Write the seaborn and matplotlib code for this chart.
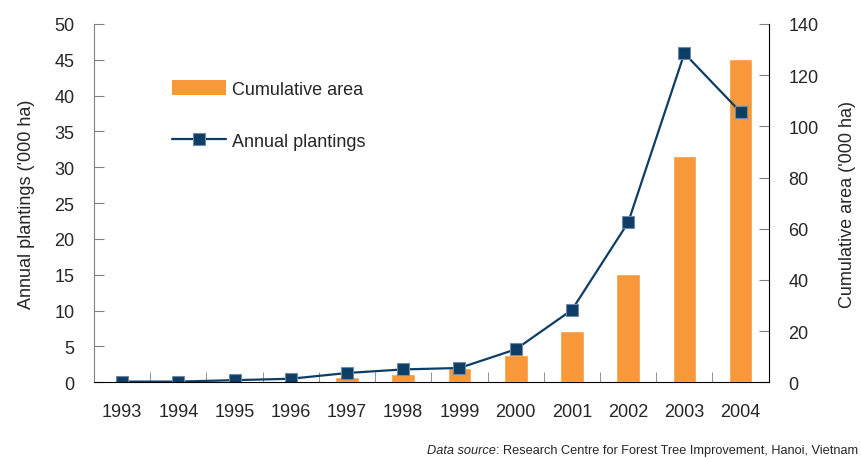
import numpy as np
import seaborn as sns
import matplotlib.pyplot as plt
from matplotlib.patches import Patch
from matplotlib.lines import Line2D

years = ["1993", "1994", "1995", "1996", "1997", "1998",
         "1999", "2000", "2001", "2002", "2003", "2004"]
annual_plantings = [0.1, 0.1, 0.3, 0.5, 1.3, 1.8, 2.0, 4.6, 10.1, 22.3, 45.9, 37.7]
cumulative_area = [0.0, 0.1, 0.2, 0.5, 2.0, 3.1, 5.4, 10.6, 20.2, 42.3, 88.4, 126.2]

orange = "#f7993a"
navy = "#0e3e66"
gray = "#808080"

sns.set_style("white")
plt.rcParams["font.family"] = ["Liberation Sans", "DejaVu Sans"]

fig = plt.figure(figsize=(8.61, 4.6), dpi=100)
ax = fig.add_axes([0.1092, 0.1667, 0.7836, 0.779])
ax2 = ax.twinx()

# bars: cumulative area on the right axis
sns.barplot(x=years, y=cumulative_area, ax=ax2, color=orange, width=0.42,
            saturation=1)
# line: annual plantings on the left axis
pos = np.arange(len(years))
sns.lineplot(x=pos, y=annual_plantings, ax=ax, color=navy, lw=1.6,
             marker="s", markersize=9, markeredgecolor="#6d8aa6",
             markeredgewidth=0.8)

ax.set_zorder(ax2.get_zorder() + 1)
ax.patch.set_visible(False)

ax.set_xlim(-0.5, len(years) - 0.5)
ax.set_ylim(0, 50)
ax2.set_ylim(0, 140)
ax.set_yticks(range(0, 51, 5))
ax2.set_yticks(range(0, 141, 20))
ax.set_xticks(pos)
ax.set_xticklabels(years)
ax.set_xticks(pos[:-1] + 0.5, minor=True)

for a in (ax, ax2):
    a.spines["top"].set_visible(False)
    a.set_xlabel("")
ax.spines["right"].set_visible(False)
ax.spines["left"].set_color(gray)
ax.spines["bottom"].set_color("black")
ax2.spines["left"].set_visible(False)
ax2.spines["bottom"].set_visible(False)
ax2.spines["right"].set_color("black")

ax.tick_params(axis="y", direction="in", length=7, color=gray, labelsize=13,
               pad=14, left=True)
ax2.tick_params(axis="y", direction="in", length=7, color=gray, labelsize=13,
                pad=14, right=True)
ax.tick_params(axis="x", which="major", length=0, labelsize=13, pad=15)
ax.tick_params(axis="x", which="minor", direction="in", length=7, color=gray,
               bottom=True)
ax2.tick_params(axis="x", length=0)

ax.set_ylabel("Annual plantings ('000 ha)", fontsize=13, labelpad=14)
ax2.set_ylabel("Cumulative area ('000 ha)", fontsize=13, labelpad=15)

handles = [Patch(facecolor=orange, edgecolor="none"),
           Line2D([], [], color=navy, lw=1.6, marker="s", markersize=9,
                  markeredgecolor="#6d8aa6", markeredgewidth=0.8)]
ax.legend(handles, ["Cumulative area", "Annual plantings"], frameon=False,
          loc="upper left", bbox_to_anchor=(0.091, 0.888), fontsize=13,
          handlelength=3.0, handleheight=0.85, handletextpad=0.35,
          labelspacing=1.9)

# source line, italic part then regular part
t2 = fig.text(0.9965, 0.006, ": Research Centre for Forest Tree Improvement, Hanoi, Vietnam",
              ha="right", va="bottom", fontsize=9.2)
fig.canvas.draw()
bb = t2.get_window_extent()
fig.text(bb.x0 / fig.bbox.width, 0.006, "Data source", ha="right", va="bottom",
         fontsize=9.2, style="italic")

fig.savefig("out.png", dpi=100)
